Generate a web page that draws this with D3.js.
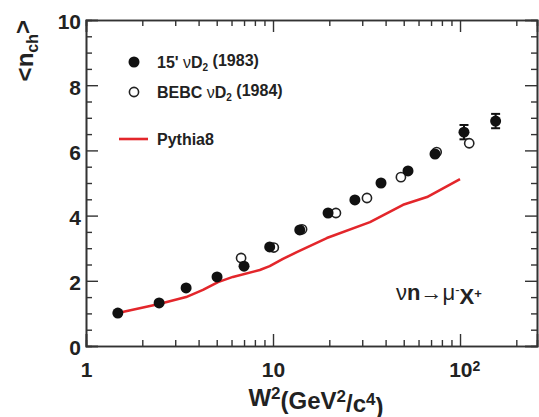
<!DOCTYPE html>
<html>
<head>
<meta charset="utf-8">
<script src="https://cdn.jsdelivr.net/npm/d3@7"></script>
<style>
  html, body { margin: 0; padding: 0; background: #fff; }
  svg { display: block; font-family: "Liberation Sans", Arial, sans-serif; }
</style>
</head>
<body>
<svg id="chart"></svg>
<script>
// 15' nu D2 (1983) - filled markers
const w2Filled = [1.48, 2.46, 3.43, 5.02, 7.0, 9.6, 13.9, 19.7, 27.4, 37.8, 52.7, 73.5, 105, 155];
const nFilled  = [1.01, 1.32, 1.78, 2.12, 2.45, 3.04, 3.56, 4.08, 4.48, 5.0, 5.37, 5.89, 6.56, 6.9];
const errFilled = [0, 0, 0, 0, 0, 0, 0, 0, 0, 0, 0, 0, 0.22, 0.22];

// BEBC nu D2 (1984) - open markers
const w2Open = [6.75, 10.1, 14.3, 21.7, 31.8, 48.3, 75, 112];
const nOpen  = [2.70, 3.02, 3.58, 4.08, 4.54, 5.18, 5.95, 6.22];

// Pythia8 curve
const w2Pythia = [1.48, 2.46, 3.43, 4.22, 5.08, 6.1, 8.5, 9.6, 11.3, 13.4, 19.4, 33, 49.6, 66.6, 100];
const nPythia  = [1.01, 1.29, 1.50, 1.72, 1.96, 2.12, 2.33, 2.45, 2.67, 2.88, 3.31, 3.80, 4.33, 4.57, 5.12];

const xMajor = [1, 10, 100];
const yMajor = [0, 2, 4, 6, 8, 10];

const width = 539;
const height = 417;
const margin = { top: 20, right: 2, bottom: 71, left: 86 };
const innerWidth = width - margin.left - margin.right;
const innerHeight = height - margin.top - margin.bottom;

const svg = d3.select("#chart")
  .attr("width", width)
  .attr("height", height);

const xScale = d3.scaleLog()
  .domain([1, 258])
  .range([0, innerWidth]);

const yScale = d3.scaleLinear()
  .domain([0, 10])
  .range([innerHeight, 0]);

const g = svg.append("g")
  .attr("transform", `translate(${margin.left},${margin.top})`);

const axisColor = "#333";
const majorLen = 12;
const minorLen = 6;

// minor tick values
const xMinor = [];
for (let d = 1; d <= 100; d *= 10) {
  for (let k = 2; k <= 9; k++) if (d * k <= 258) xMinor.push(d * k);
}
const yMinor = d3.range(0.5, 10, 0.5).filter(v => v % 2 !== 0);

function styleAxis(sel, keepText) {
  sel.select(".domain").attr("stroke", axisColor).attr("stroke-width", 1.6);
  sel.selectAll(".tick line").attr("stroke", axisColor).attr("stroke-width", 1.4);
  if (!keepText) sel.selectAll(".tick text").remove();
}

// bottom axis (major with labels)
const xAxisG = g.append("g")
  .attr("transform", `translate(0,${innerHeight})`)
  .call(d3.axisBottom(xScale).tickValues(xMajor).tickSize(-majorLen).tickPadding(16).tickFormat(d => d === 100 ? "10" : String(d)));
styleAxis(xAxisG, true);
xAxisG.selectAll("text")
  .attr("fill", "#222")
  .style("font-size", "21px")
  .style("font-weight", "bold")
  .attr("dy", "0.71em")
  .each(function (d) {
    if (d === 100) {
      d3.select(this).append("tspan")
        .attr("dy", "-0.45em")
        .style("font-size", "14px")
        .text("2");
      d3.select(this).attr("dx", "0.2em");
    }
  });
const xMinorG = g.append("g")
  .attr("transform", `translate(0,${innerHeight})`)
  .call(d3.axisBottom(xScale).tickValues(xMinor).tickSize(-minorLen));
styleAxis(xMinorG);

// top axis mirror
const xTopG = g.append("g")
  .call(d3.axisTop(xScale).tickValues(xMajor).tickSize(-majorLen));
styleAxis(xTopG);
const xTopMinorG = g.append("g")
  .call(d3.axisTop(xScale).tickValues(xMinor).tickSize(-minorLen));
styleAxis(xTopMinorG);

// left axis
const yAxisG = g.append("g")
  .call(d3.axisLeft(yScale).tickValues(yMajor).tickSize(-majorLen).tickPadding(5));
styleAxis(yAxisG, true);
yAxisG.selectAll("text")
  .attr("fill", "#222")
  .style("font-size", "21px")
  .style("font-weight", "bold")
  .attr("dy", "0.42em");
const yMinorG = g.append("g")
  .call(d3.axisLeft(yScale).tickValues(yMinor).tickSize(-minorLen));
styleAxis(yMinorG);

// right axis mirror
const yRightG = g.append("g")
  .attr("transform", `translate(${innerWidth},0)`)
  .call(d3.axisRight(yScale).tickValues(yMajor).tickSize(-majorLen));
styleAxis(yRightG);
const yRightMinorG = g.append("g")
  .attr("transform", `translate(${innerWidth},0)`)
  .call(d3.axisRight(yScale).tickValues(yMinor).tickSize(-minorLen));
styleAxis(yRightMinorG);

// axis titles
const xTitle = svg.append("text")
  .attr("x", 316)
  .attr("y", 406)
  .attr("text-anchor", "middle")
  .attr("fill", "#222")
  .style("font-size", "24px")
  .style("font-weight", "bold");
xTitle.append("tspan").text("W");
xTitle.append("tspan").attr("dy", "-0.42em").style("font-size", "17px").text("2");
xTitle.append("tspan").attr("dy", "0.42em").text("(GeV");
xTitle.append("tspan").attr("dy", "-0.42em").style("font-size", "17px").text("2");
xTitle.append("tspan").attr("dy", "0.42em").text("/c");
xTitle.append("tspan").attr("dy", "-0.42em").style("font-size", "17px").text("4");
xTitle.append("tspan").attr("dy", "0.42em").text(")");

const yTitle = svg.append("text")
  .attr("transform", "translate(33,20) rotate(-90)")
  .attr("text-anchor", "end")
  .attr("fill", "#222")
  .style("font-size", "24px")
  .style("font-weight", "bold");
yTitle.append("tspan").text("<n");
yTitle.append("tspan").attr("dy", "0.3em").style("font-size", "16px").text("ch");
yTitle.append("tspan").attr("dy", "-0.3em").text(">");

// Pythia8 line
const lineGenerator = d3.line()
  .x((d, i) => xScale(w2Pythia[i]))
  .y(d => yScale(d));

g.append("path")
  .datum(nPythia)
  .attr("fill", "none")
  .attr("stroke", "#e3262b")
  .attr("stroke-width", 2.6)
  .attr("stroke-linejoin", "round")
  .attr("d", lineGenerator);

// error bars for filled
const filledData = w2Filled.map((w, i) => ({ w, n: nFilled[i], e: errFilled[i] }));
const errG = g.append("g");
filledData.filter(d => d.e > 0).forEach(d => {
  const cx = xScale(d.w);
  errG.append("line")
    .attr("x1", cx).attr("x2", cx)
    .attr("y1", yScale(d.n - d.e)).attr("y2", yScale(d.n + d.e))
    .attr("stroke", "#111").attr("stroke-width", 2);
  [d.n - d.e, d.n + d.e].forEach(v => {
    errG.append("line")
      .attr("x1", cx - 4.5).attr("x2", cx + 4.5)
      .attr("y1", yScale(v)).attr("y2", yScale(v))
      .attr("stroke", "#111").attr("stroke-width", 2);
  });
});

// open markers
g.selectAll(".open-pt")
  .data(w2Open.map((w, i) => ({ w, n: nOpen[i] })))
  .enter()
  .append("circle")
  .attr("class", "open-pt")
  .attr("cx", d => xScale(d.w))
  .attr("cy", d => yScale(d.n))
  .attr("r", 4.6)
  .attr("fill", "#fff")
  .attr("stroke", "#222")
  .attr("stroke-width", 1.6);

// filled markers
g.selectAll(".filled-pt")
  .data(filledData)
  .enter()
  .append("circle")
  .attr("class", "filled-pt")
  .attr("cx", d => xScale(d.w))
  .attr("cy", d => yScale(d.n))
  .attr("r", 5.5)
  .attr("fill", "#111");

// legend
const legend = svg.append("g");
legend.append("circle").attr("cx", 134).attr("cy", 62).attr("r", 5.5).attr("fill", "#111");
legend.append("circle").attr("cx", 134).attr("cy", 92).attr("r", 4.6)
  .attr("fill", "#fff").attr("stroke", "#222").attr("stroke-width", 1.6);
legend.append("line").attr("x1", 119).attr("x2", 148).attr("y1", 139).attr("y2", 139)
  .attr("stroke", "#e3262b").attr("stroke-width", 2.6);

function legendText(y, before, after) {
  const t = legend.append("text")
    .attr("x", 157).attr("y", y)
    .attr("fill", "#222")
    .style("font-size", "16px")
    .style("font-weight", "bold");
  t.append("tspan").text(before);
  t.append("tspan").style("font-weight", "normal").text("\u03BD");
  t.append("tspan").text("D");
  t.append("tspan").attr("dy", "0.3em").style("font-size", "10px").text("2");
  t.append("tspan").attr("dy", "-0.3em").text(after);
}
legendText(68, "15'  ", " (1983)");
legendText(98, "BEBC ", " (1984)");
legend.append("text")
  .attr("x", 157).attr("y", 145)
  .attr("fill", "#222")
  .style("font-size", "16px")
  .style("font-weight", "bold")
  .text("Pythia8");

// process label
const proc = svg.append("text")
  .attr("x", 396).attr("y", 300)
  .attr("fill", "#222")
  .style("font-size", "22px");
proc.append("tspan").text("\u03BD");
proc.append("tspan").style("font-weight", "bold").text("n");
proc.append("tspan").text("\u2192\u03BC");
proc.append("tspan").attr("dy", "-0.45em").style("font-size", "13px").text("-");
proc.append("tspan").attr("dy", "0.45em").style("font-weight", "bold").text("X");
proc.append("tspan").attr("dy", "-0.45em").style("font-size", "13px").style("font-weight", "bold").text("+");
</script>
</body>
</html>
